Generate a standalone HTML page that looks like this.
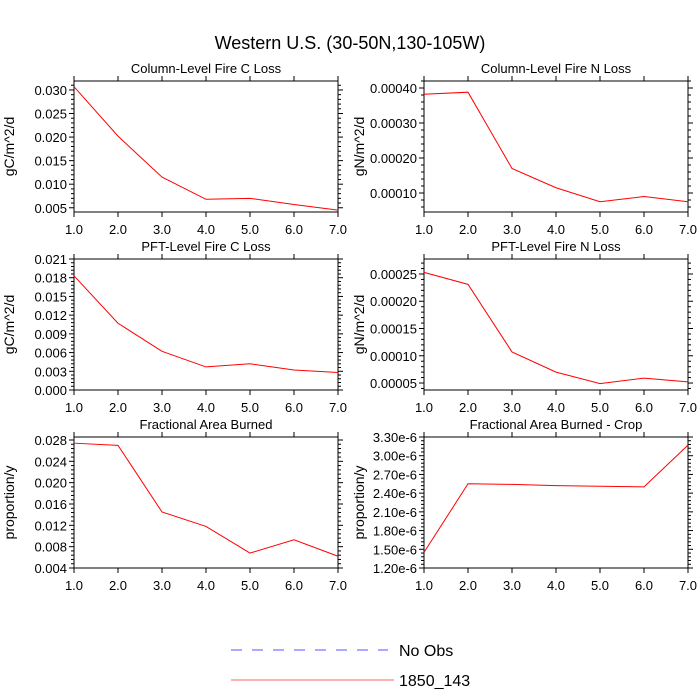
<!DOCTYPE html>
<html><head><meta charset="utf-8"><style>
body{margin:0;background:#fff;}
svg{display:block;font-family:"Liberation Sans",sans-serif;}
</style></head><body>
<svg id="c" width="700" height="700"></svg>
<script>
const xCats=[1,2,3,4,5,6,7];
const xTickLabels=["1.0","2.0","3.0","4.0","5.0","6.0","7.0"];
const colCLoss=[0.0307,0.0202,0.0115,0.0068,0.0070,0.0057,0.0045];
const colNLoss=[0.000382,0.000388,0.000170,0.000115,0.000075,0.000090,0.000075];
const pftCLoss=[0.0183,0.0107,0.0062,0.0037,0.0042,0.0032,0.0028];
const pftNLoss=[0.000253,0.000231,0.000107,0.000070,0.000049,0.000059,0.000052];
const areaBurned=[0.0274,0.0270,0.0145,0.0118,0.0068,0.0093,0.0062];
const areaCrop=[1.45e-6,2.55e-6,2.54e-6,2.52e-6,2.51e-6,2.50e-6,3.17e-6];
const ticksColC=["0.005","0.010","0.015","0.020","0.025","0.030"];
const ticksColN=["0.00010","0.00020","0.00030","0.00040"];
const ticksPftC=["0.000","0.003","0.006","0.009","0.012","0.015","0.018","0.021"];
const ticksPftN=["0.00005","0.00010","0.00015","0.00020","0.00025"];
const ticksArea=["0.004","0.008","0.012","0.016","0.020","0.024","0.028"];
const ticksCrop=["1.20e-6","1.50e-6","1.80e-6","2.10e-6","2.40e-6","2.70e-6","3.00e-6","3.30e-6"];

const svg=document.getElementById('c');
const NS='http://www.w3.org/2000/svg';
function mk(t,a,p){const e=document.createElementNS(NS,t);for(const k in a)e.setAttribute(k,a[k]);(p||svg).appendChild(e);return e;}

const panels=[
 {name:'col-c-loss',title:'Column-Level Fire C Loss',ylab:'gC/m^2/d',x0:74,y0:81,data:colCLoss,ticks:ticksColC,ymin:0.0041,ymax:0.0319},
 {name:'col-n-loss',title:'Column-Level Fire N Loss',ylab:'gN/m^2/d',x0:424,y0:81,data:colNLoss,ticks:ticksColN,ymin:0.0000457,ymax:0.00042},
 {name:'pft-c-loss',title:'PFT-Level Fire C Loss',ylab:'gC/m^2/d',x0:74,y0:259,data:pftCLoss,ticks:ticksPftC,ymin:0,ymax:0.021},
 {name:'pft-n-loss',title:'PFT-Level Fire N Loss',ylab:'gN/m^2/d',x0:424,y0:259,data:pftNLoss,ticks:ticksPftN,ymin:0.0000372,ymax:0.0002775},
 {name:'area-burned',title:'Fractional Area Burned',ylab:'proportion/y',x0:74,y0:437,data:areaBurned,ticks:ticksArea,ymin:0.004,ymax:0.02856},
 {name:'area-burned-crop',title:'Fractional Area Burned - Crop',ylab:'proportion/y',x0:424,y0:437,data:areaCrop,ticks:ticksCrop,ymin:1.2e-6,ymax:3.3e-6}
];
const W=264,H=131;
const tt=mk('text',{x:350,y:49,'text-anchor':'middle','font-size':18});tt.textContent='Western U.S. (30-50N,130-105W)';



panels.forEach(p=>{
 const g=mk('g',{});
 
 
 const xs=v=>p.x0+(v-1)/6*W;
 const ys=v=>p.y0+H-(v-p.ymin)/(p.ymax-p.ymin)*H;
 const fr=mk('rect',{x:p.x0,y:p.y0,width:W,height:H,fill:'none',stroke:'#000','stroke-width':1},g);
 
 
 xCats.forEach((c,i)=>{
  const x=xs(c);
  mk('line',{x1:x,x2:x,y1:p.y0+H,y2:p.y0+H+5,stroke:'#000'},g);
  mk('line',{x1:x,x2:x,y1:p.y0,y2:p.y0-5,stroke:'#000'},g);
  const t=mk('text',{x:x,y:p.y0+H+22,'text-anchor':'middle','font-size':13},g);t.textContent=xTickLabels[i];
  
  
 });
 const tv=p.ticks.map(Number);
 const step=tv[1]-tv[0];
 for(let k=-5;k<tv.length*5+5;k++){
  const v=tv[0]+k*step/5;
  if(v<p.ymin-1e-12||v>p.ymax+1e-12)continue;
  const y=ys(v);const len=(k%5===0)?5:3;
  mk('line',{x1:p.x0,x2:p.x0-len,y1:y,y2:y,stroke:'#000'},g);
  mk('line',{x1:p.x0+W,x2:p.x0+W+len,y1:y,y2:y,stroke:'#000'},g);
 }
 p.ticks.forEach((l,i)=>{
  const t=mk('text',{x:p.x0-7,y:ys(tv[i])+5,'text-anchor':'end','font-size':13},g);t.textContent=l;
  
  
 });
 const ti=mk('text',{x:p.x0+W/2,y:p.y0-8,'text-anchor':'middle','font-size':13},g);ti.textContent=p.title;
 
 
 const yl=mk('text',{x:0,y:0,'text-anchor':'middle','font-size':14,transform:`translate(${p.x0-60},${p.y0+H/2}) rotate(-90)`},g);yl.textContent=p.ylab;
 
 
 const pts=p.data.map((v,i)=>xs(xCats[i])+','+ys(v)).join(' ');
 const ln=mk('polyline',{points:pts,fill:'none',stroke:'#f00','stroke-width':1},g);
 
 
});
const l1=mk('line',{x1:231,x2:388,y1:650,y2:650,stroke:'#55f','stroke-dasharray':'11,10'});


const t1=mk('text',{x:399,y:656,'font-size':16});t1.textContent='No Obs';


const l2=mk('line',{x1:231,x2:394,y1:680,y2:680,stroke:'#f66'});


const t2=mk('text',{x:399,y:686,'font-size':16});t2.textContent='1850_143';


</script>
</body></html>
